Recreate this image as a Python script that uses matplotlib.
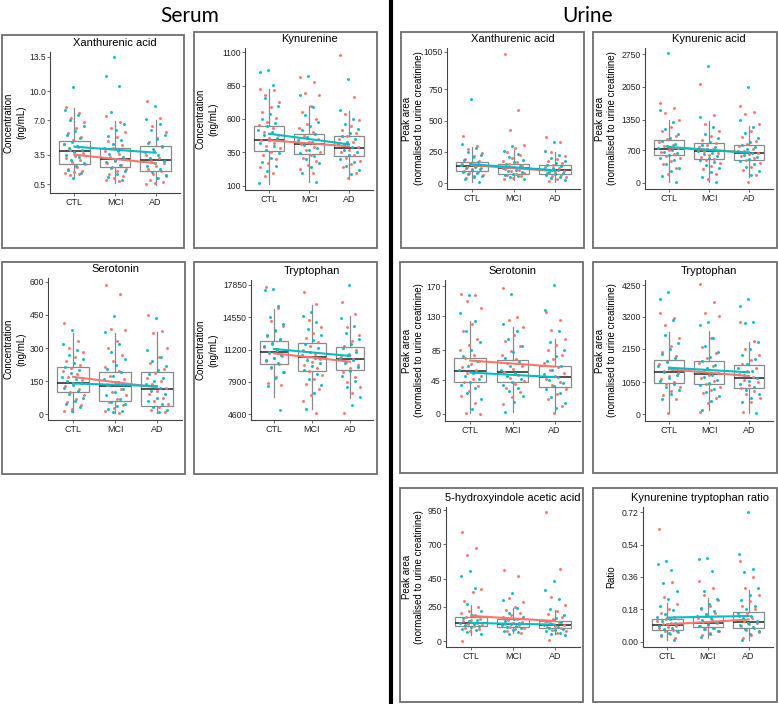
import numpy as np
import matplotlib
matplotlib.use("Agg")
import matplotlib.pyplot as plt
from matplotlib.patches import Rectangle

W, H = 778, 704
RED, CYAN = "#F8766D", "#00BFC4"
GROUPS = ["CTL", "MCI", "AD"]

# ---- data: box stats per group as [whislo, q1, med, q3, whishi]; trend ends (CTL, AD); points per group
# serum xanthurenic acid
SXA_TICKS = [0.5, 3.5, 7.0, 10.0, 13.5]
SXA_BOX = [[1.25, 2.55, 3.91, 4.93, 8.25], [0.63, 2.2, 3.06, 4.15, 6.98], [0.4, 1.83, 2.93, 4.39, 7.05]]
SXA_TR_RED, SXA_TR_CYAN = [3.5, 2.62], [4.32, 3.7]
SXA_RED = [[8.4, 7.8, 7.3, 6.8, 6.2, 5.7, 5.3, 5.0, 4.6, 4.3, 4.0, 3.7, 3.4, 3.2, 3.0, 2.8, 2.5, 2.2, 2.0, 1.8, 1.7, 1.6, 1.5, 1.4],
           [7.5, 6.8, 6.2, 5.8, 5.3, 4.9, 4.5, 4.2, 3.9, 3.6, 3.3, 3.1, 2.9, 2.6, 2.4, 2.2, 2.0, 1.8, 1.5, 1.3, 1.1, 0.9, 0.8],
           [9.0, 7.2, 6.4, 5.8, 5.2, 4.8, 4.3, 3.9, 3.5, 3.2, 2.9, 2.6, 2.3, 2.0, 1.8, 1.5, 1.3, 1.1, 0.9, 0.7, 0.6, 0.5]]
SXA_CYAN = [[10.4, 8.1, 7.6, 7.0, 6.4, 5.9, 5.5, 5.2, 4.8, 4.6, 4.4, 4.2, 4.0, 3.8, 3.5, 3.3, 3.0, 2.6, 2.3, 1.9, 1.6, 1.1],
            [13.5, 11.5, 10.5, 7.9, 6.6, 6.0, 5.4, 5.0, 4.6, 4.2, 3.9, 3.6, 3.3, 3.0, 2.7, 2.4, 2.1, 1.8, 1.5, 1.2, 0.9],
            [8.5, 7.1, 6.6, 6.0, 5.5, 5.1, 4.7, 4.4, 4.1, 3.8, 3.5, 3.2, 2.9, 2.6, 2.3, 2.0, 1.7, 1.4, 1.1]]

# serum kynurenine
SKY_TICKS = [100, 350, 600, 850, 1100]
SKY_BOX = [[117, 364, 446, 550, 826], [130, 336, 416, 490, 695], [150, 321, 381, 473, 660]]
SKY_TR_RED, SKY_TR_CYAN = [441, 396], [490, 411]
SKY_RED = [[826, 814, 777, 730, 690, 650, 610, 580, 555, 530, 505, 480, 460, 440, 420, 400, 380, 355, 330, 300, 270, 240, 200, 172],
           [913, 876, 794, 777, 700, 650, 600, 560, 530, 500, 475, 450, 430, 410, 390, 370, 350, 330, 310, 285, 260, 230, 200],
           [1080, 764, 640, 590, 550, 520, 495, 470, 450, 430, 410, 390, 370, 350, 330, 310, 290, 265, 240, 200, 160]]
SKY_CYAN = [[963, 950, 851, 760, 700, 640, 600, 570, 545, 520, 500, 480, 460, 440, 420, 395, 370, 345, 310, 280, 250, 210, 122],
            [918, 780, 690, 630, 580, 545, 515, 490, 465, 445, 425, 405, 385, 365, 345, 325, 300, 270, 240, 200, 130],
            [901, 665, 600, 560, 525, 495, 470, 450, 430, 410, 390, 370, 350, 330, 305, 280, 250, 220, 190]]

# serum serotonin
SSE_TICKS = [0, 150, 300, 450, 600]
SSE_BOX = [[10, 98, 139, 212, 366], [6, 60, 128, 189, 366], [3, 38, 113, 189, 373]]
SSE_TR_RED, SSE_TR_CYAN = [169, 121], [139, 127]
SSE_RED = [[414, 330, 300, 280, 260, 240, 225, 210, 195, 180, 168, 155, 140, 128, 115, 100, 85, 70, 55, 40, 25, 12],
           [585, 547, 388, 380, 330, 300, 270, 240, 215, 195, 175, 160, 145, 130, 115, 100, 85, 70, 55, 40, 28, 15, 5],
           [452, 376, 369, 300, 260, 230, 205, 185, 165, 150, 135, 120, 105, 90, 75, 60, 45, 30, 20, 10]]
SSE_CYAN = [[384, 320, 290, 270, 250, 230, 215, 200, 185, 170, 160, 150, 140, 130, 118, 105, 90, 75, 60, 45, 30, 15],
            [444, 373, 320, 280, 250, 225, 205, 190, 175, 160, 145, 130, 115, 100, 85, 70, 55, 45, 35, 25, 15, 8],
            [437, 290, 260, 240, 220, 200, 180, 165, 150, 135, 120, 105, 90, 75, 60, 45, 30, 18, 8]]

# serum tryptophan
STR_TICKS = [4600, 7900, 11200, 14550, 17850]
STR_BOX = [[6380, 9735, 11000, 12100, 15350], [5080, 9050, 10420, 11860, 15830], [6280, 9120, 10210, 11450, 14700]]
STR_TR_RED, STR_TR_CYAN = [10830, 9975], [11280, 10560]
STR_RED = [[17600, 15450, 14200, 13600, 13100, 12600, 12200, 11800, 11500, 11200, 10900, 10600, 10300, 10000, 9700, 9300, 8900, 8400, 7750, 7580],
           [17100, 15860, 14300, 13500, 12900, 12400, 12000, 11600, 11200, 10800, 10500, 10200, 9900, 9600, 9300, 9000, 8600, 8200, 7700, 7200, 6500, 5970, 4670],
           [16070, 14840, 13500, 12700, 12100, 11600, 11200, 10800, 10500, 10200, 9900, 9600, 9300, 8900, 8400, 7900, 7400, 6800, 4740]]
STR_CYAN = [[17400, 17300, 15690, 14600, 13800, 13200, 12700, 12300, 11900, 11600, 11300, 11000, 10700, 10400, 10100, 9800, 9400, 8900, 8300, 7480, 5010],
            [15110, 14700, 14000, 13300, 12700, 12200, 11800, 11400, 11000, 10700, 10400, 10100, 9800, 9500, 9100, 8700, 8200, 7600, 6800, 5080],
            [17880, 14500, 13600, 12900, 12300, 11800, 11400, 11000, 10700, 10400, 10100, 9800, 9400, 9000, 8500, 8000, 7400, 6300, 5520]]

# urine xanthurenic acid
UXA_TICKS = [0, 250, 500, 750, 1050]
UXA_BOX = [[8, 94, 136, 168, 289], [21, 75, 120, 150, 262], [8, 72, 102, 147, 248]]
UXA_TR_RED, UXA_TR_CYAN = [142, 96], [150, 102]
UXA_RED = [[374, 300, 270, 240, 215, 195, 178, 162, 150, 140, 130, 120, 110, 100, 90, 80, 68, 55, 40],
           [1031, 588, 422, 302, 280, 250, 225, 200, 180, 165, 150, 138, 126, 115, 104, 94, 84, 74, 64, 54, 44, 34],
           [369, 331, 250, 220, 195, 175, 158, 143, 130, 118, 107, 97, 87, 77, 67, 57, 45, 32, 20]]
UXA_CYAN = [[670, 310, 280, 250, 225, 205, 185, 170, 155, 143, 132, 122, 112, 102, 92, 82, 70, 58, 45, 30, 10],
            [300, 260, 230, 205, 185, 168, 152, 140, 128, 117, 106, 96, 86, 76, 66, 56, 45, 30],
            [329, 255, 225, 200, 180, 163, 148, 135, 123, 112, 102, 92, 82, 72, 62, 50, 38, 25]]

# urine kynurenic acid
UKA_TICKS = [0, 700, 1350, 2050, 2750]
UKA_BOX = [[21, 591, 720, 912, 1340], [21, 513, 684, 855, 1325], [128, 499, 641, 819, 1211]]
UKA_TR_RED, UKA_TR_CYAN = [755, 655], [769, 641]
UKA_RED = [[1696, 1589, 1500, 1350, 1200, 1100, 1000, 930, 870, 820, 780, 740, 700, 660, 620, 580, 530, 470, 400, 320, 200],
           [2102, 1446, 1250, 1100, 1000, 920, 860, 810, 760, 720, 680, 640, 600, 560, 520, 480, 430, 370, 300, 200, 80],
           [1639, 1518, 1468, 1250, 1100, 980, 900, 840, 780, 730, 690, 650, 610, 570, 530, 480, 420, 350, 270, 180, 21]]
UKA_CYAN = [[2764, 1553, 1300, 1150, 1050, 960, 900, 840, 790, 750, 710, 670, 630, 590, 540, 480, 410, 330, 250, 150, 21],
            [2500, 1400, 1200, 1050, 950, 880, 820, 770, 730, 690, 650, 610, 570, 530, 490, 440, 380, 310, 230, 120, 21],
            [2052, 1339, 1200, 1060, 960, 880, 820, 770, 720, 680, 640, 600, 560, 520, 470, 410, 340, 260, 170]]

# urine serotonin
USE_TICKS = [0, 45, 85, 130, 170]
USE_BOX = [[1, 43, 57, 75, 123], [3, 43, 56, 72, 116], [1, 36, 49, 64, 100]]
USE_TR_RED, USE_TR_CYAN = [71, 63], [55, 49]
USE_RED = [[159, 158, 150, 141, 120, 110, 100, 92, 85, 79, 74, 70, 66, 62, 58, 54, 50, 46, 42, 37, 31, 24, 15, 1, 0.5],
           [168, 129, 125, 115, 105, 97, 90, 84, 78, 73, 68, 64, 60, 56, 52, 48, 44, 40, 35, 29, 22, 13],
           [136, 125, 112, 100, 92, 85, 79, 73, 68, 63, 58, 54, 50, 46, 42, 38, 33, 27, 20, 10, 1]]
USE_CYAN = [[158, 134, 123, 110, 95, 85, 77, 70, 64, 59, 55, 51, 47, 43, 39, 34, 28, 20, 7],
            [159, 120, 110, 100, 90, 82, 75, 69, 64, 59, 55, 51, 47, 43, 39, 35, 30, 24, 16, 3],
            [171, 138, 110, 95, 85, 77, 70, 64, 58, 53, 49, 45, 41, 37, 33, 28, 22, 15, 8]]

# urine tryptophan
UTR_TICKS = [0, 1050, 2150, 3200, 4250]
UTR_BOX = [[22, 1032, 1384, 1779, 2712], [132, 977, 1318, 1746, 2734], [22, 868, 1197, 1603, 2383]]
UTR_TR_RED, UTR_TR_CYAN = [1472, 1252], [1526, 1373]
UTR_RED = [[3317, 3152, 2932, 2500, 2250, 2050, 1900, 1760, 1640, 1530, 1430, 1340, 1250, 1160, 1070, 980, 880, 770, 640, 480, 22],
           [4283, 3701, 3317, 3240, 2500, 2200, 2000, 1830, 1690, 1570, 1460, 1360, 1270, 1180, 1090, 1000, 900, 800, 680, 540, 350, 77],
           [3020, 2400, 2150, 1950, 1790, 1650, 1520, 1410, 1310, 1220, 1130, 1040, 950, 860, 760, 650, 520, 380, 77]]
UTR_CYAN = [[4008, 3778, 3097, 2600, 2350, 2150, 1980, 1830, 1700, 1580, 1470, 1370, 1280, 1190, 1100, 1000, 900, 790, 660, 500],
            [3042, 2932, 2500, 2250, 2050, 1880, 1740, 1610, 1500, 1400, 1300, 1210, 1120, 1030, 940, 840, 730, 600, 420, 132],
            [3789, 3569, 3042, 2987, 2380, 2150, 1960, 1800, 1660, 1530, 1410, 1300, 1200, 1100, 1000, 900, 790, 670, 530, 380, 22]]

# urine 5-hydroxyindole acetic acid
UHI_TICKS = [0, 250, 450, 700, 950]
UHI_BOX = [[41, 107, 133, 174, 259], [58, 104, 126, 158, 242], [48, 97, 119, 145, 223]]
UHI_TR_RED, UHI_TR_CYAN = [182, 145], [131, 119]
UHI_RED = [[788, 676, 623, 375, 356, 290, 250, 220, 200, 185, 172, 162, 152, 143, 134, 125, 116, 107, 97, 86, 74, 2],
           [514, 470, 313, 280, 250, 225, 205, 188, 174, 162, 151, 141, 131, 122, 113, 104, 95, 85, 74, 60],
           [933, 523, 320, 260, 220, 195, 176, 161, 148, 137, 127, 118, 109, 100, 91, 81, 70, 55, 5]]
UHI_CYAN = [[507, 470, 385, 270, 220, 190, 170, 155, 142, 132, 123, 115, 107, 99, 90, 80, 68, 50],
            [351, 300, 240, 200, 175, 158, 145, 134, 124, 115, 107, 99, 91, 83, 74, 64, 52],
            [434, 373, 303, 230, 190, 165, 148, 135, 124, 114, 105, 96, 88, 80, 71, 61, 50, 40]]

# urine kynurenine tryptophan ratio
UKT_TICKS = [0.00, 0.18, 0.36, 0.54, 0.72]
UKT_BOX = [[0.009, 0.068, 0.092, 0.129, 0.216], [0.024, 0.083, 0.107, 0.144, 0.244], [0.009, 0.079, 0.111, 0.166, 0.290]]
UKT_TR_RED, UKT_TR_CYAN = [0.098, 0.124], [0.135, 0.144]
UKT_RED = [[0.628, 0.33, 0.25, 0.21, 0.18, 0.16, 0.14, 0.125, 0.115, 0.105, 0.097, 0.09, 0.083, 0.076, 0.069, 0.062, 0.054, 0.045, 0.035, 0.02],
           [0.338, 0.3, 0.26, 0.23, 0.2, 0.18, 0.16, 0.145, 0.133, 0.122, 0.112, 0.103, 0.095, 0.087, 0.079, 0.07, 0.061, 0.05, 0.038],
           [0.45, 0.36, 0.3, 0.26, 0.225, 0.2, 0.18, 0.16, 0.145, 0.13, 0.118, 0.107, 0.097, 0.087, 0.077, 0.066, 0.054, 0.04, 0.02]]
UKT_CYAN = [[0.449, 0.434, 0.397, 0.327, 0.28, 0.24, 0.2, 0.175, 0.155, 0.14, 0.127, 0.116, 0.106, 0.097, 0.088, 0.079, 0.07, 0.06, 0.05, 0.038, 0.01],
            [0.467, 0.462, 0.393, 0.28, 0.24, 0.21, 0.19, 0.17, 0.155, 0.142, 0.13, 0.12, 0.11, 0.1, 0.09, 0.08, 0.07, 0.058, 0.045, 0.025],
            [0.72, 0.489, 0.406, 0.388, 0.3, 0.26, 0.23, 0.2, 0.18, 0.16, 0.145, 0.13, 0.117, 0.105, 0.094, 0.083, 0.072, 0.06, 0.045, 0.01]]

CONC = "Concentration\n(ng/mL)"
PEAK = "Peak area\n(normalised to urine creatinine)"

# layout in pixels: panel frame, axes box (x0, y0, x1, y1 from top-left), y-label x, title x, y limits
PANELS = [
    ("Xanthurenic acid", CONC, SXA_TICKS, "{:.1f}", SXA_BOX, SXA_TR_RED, SXA_TR_CYAN, SXA_RED, SXA_CYAN,
     (2, 35, 184, 248), (50, 52, 180, 193), 15, 115, (-0.42, 14.0)),
    ("Kynurenine", CONC, SKY_TICKS, "{:d}", SKY_BOX, SKY_TR_RED, SKY_TR_CYAN, SKY_RED, SKY_CYAN,
     (194, 32, 377, 248), (245, 48, 373, 190), 207, 310, (70, 1130)),
    ("Serotonin", CONC, SSE_TICKS, "{:d}", SSE_BOX, SSE_TR_RED, SSE_TR_CYAN, SSE_RED, SSE_CYAN,
     (2, 262, 185, 474), (48, 278, 182, 420), 15, 115, (-27, 618)),
    ("Tryptophan", CONC, STR_TICKS, "{:d}", STR_BOX, STR_TR_RED, STR_TR_CYAN, STR_RED, STR_CYAN,
     (194, 262, 377, 474), (251, 280, 373, 420), 207, 312, (3984, 18360)),
    ("Xanthurenic acid", PEAK, UXA_TICKS, "{:d}", UXA_BOX, UXA_TR_RED, UXA_TR_CYAN, UXA_RED, UXA_CYAN,
     (401, 32, 584, 248), (447, 48, 580, 189), 413, 513, (-48, 1082)),
    ("Kynurenic acid", PEAK, UKA_TICKS, "{:d}", UKA_BOX, UKA_TR_RED, UKA_TR_CYAN, UKA_RED, UKA_CYAN,
     (593, 32, 777, 248), (645, 48, 773, 189), 606, 709, (-128, 2878)),
    ("Serotonin", PEAK, USE_TICKS, "{:d}", USE_BOX, USE_TR_RED, USE_TR_CYAN, USE_RED, USE_CYAN,
     (400, 262, 583, 473), (445, 280, 580, 421), 413, 512, (-9.3, 178)),
    ("Tryptophan", PEAK, UTR_TICKS, "{:d}", UTR_BOX, UTR_TR_RED, UTR_TR_CYAN, UTR_RED, UTR_CYAN,
     (593, 262, 777, 473), (645, 280, 773, 421), 606, 709, (-230, 4415)),
    ("5-hydroxyindole acetic acid", PEAK, UHI_TICKS, "{:d}", UHI_BOX, UHI_TR_RED, UHI_TR_CYAN, UHI_RED, UHI_CYAN,
     (400, 488, 583, 702), (446, 507, 580, 647), 413, 513, (-43.5, 972)),
    ("Kynurenine tryptophan ratio", "Ratio", UKT_TICKS, "{:.2f}", UKT_BOX, UKT_TR_RED, UKT_TR_CYAN, UKT_RED, UKT_CYAN,
     (593, 488, 777, 702), (643, 507, 773, 647), 611, 700, (-0.028, 0.748)),
]

plt.rcParams["font.family"] = ["Liberation Sans", "DejaVu Sans"]


def fx(x):
    return x / W


def fy(y):
    return 1 - y / H


def jitter(n, phase):
    # deterministic spread of x offsets (golden-ratio sequence), +-0.27 category units
    return ((np.arange(n) * 0.618034 + phase) % 1 - 0.5) * 0.54


fig = plt.figure(figsize=(W / 100, H / 100), dpi=100)

for (title, ylab, ticks, fmt, box, tr_red, tr_cyan, red, cyan, frame, abox, ylx, tx, ylim) in PANELS:
    x0, y0, x1, y1 = frame
    fig.patches.append(Rectangle((fx(x0), fy(y1)), fx(x1 - x0), (y1 - y0) / H, transform=fig.transFigure,
                                 fill=False, edgecolor="#6e6e6e", lw=1.3, zorder=0))
    ax0, ay0, ax1, ay1 = abox
    ax = fig.add_axes([fx(ax0), fy(ay1), fx(ax1 - ax0), (ay1 - ay0) / H])
    stats = [dict(whislo=b[0], q1=b[1], med=b[2], q3=b[3], whishi=b[4], label=g) for b, g in zip(box, GROUPS)]
    ax.bxp(stats, positions=[1, 2, 3], widths=0.75, showfliers=False, showcaps=False, patch_artist=True,
           boxprops=dict(facecolor="none", edgecolor="#8a8a8a", lw=0.9),
           whiskerprops=dict(color="#8a8a8a", lw=0.9),
           medianprops=dict(color="#222222", lw=1.1), zorder=1)
    for i in range(3):
        r, c = np.array(red[i]), np.array(cyan[i])
        ax.scatter(i + 1 + jitter(len(r), 0.1), r, s=4.5, color=RED, lw=0, zorder=2)
        ax.scatter(i + 1 + jitter(len(c), 0.45), c, s=4.5, color=CYAN, lw=0, zorder=2)
    ax.plot([1, 3], tr_red, color=RED, lw=1.5, zorder=3)
    ax.plot([1, 3], tr_cyan, color=CYAN, lw=1.5, zorder=3)
    ax.set_xlim(0.4, 3.6)
    ax.set_ylim(*ylim)
    ax.set_xticks([1, 2, 3])
    ax.set_xticklabels(GROUPS)
    ax.set_yticks(ticks)
    ax.set_yticklabels([fmt.format(t) for t in ticks])
    ax.tick_params(length=2, width=0.6, color="#555555", labelcolor="#222222")
    ax.tick_params(axis="x", labelsize=6.5, pad=1.5)
    ax.tick_params(axis="y", labelsize=6.2, pad=1)
    for s in ("top", "right"):
        ax.spines[s].set_visible(False)
    for s in ("left", "bottom"):
        ax.spines[s].set_color("#444444")
        ax.spines[s].set_linewidth(0.8)
    ax.patch.set_alpha(0)
    fig.text(fx(tx), fy(ay0 - 9), title, ha="center", va="center", fontsize=8)
    fig.text(fx(ylx), fy((ay0 + ay1) / 2), ylab, ha="center", va="center", rotation=90,
             fontsize=7, linespacing=1.3)

fig.text(fx(190), fy(16), "Serum", ha="center", va="center", fontsize=15, family=["Lato", "DejaVu Sans"])
fig.text(fx(588), fy(16), "Urine", ha="center", va="center", fontsize=15, family=["Lato", "DejaVu Sans"])
fig.add_artist(plt.Line2D([fx(391), fx(391)], [0, 1], color="black", lw=3, transform=fig.transFigure))

fig.savefig("out.png", dpi=100)
